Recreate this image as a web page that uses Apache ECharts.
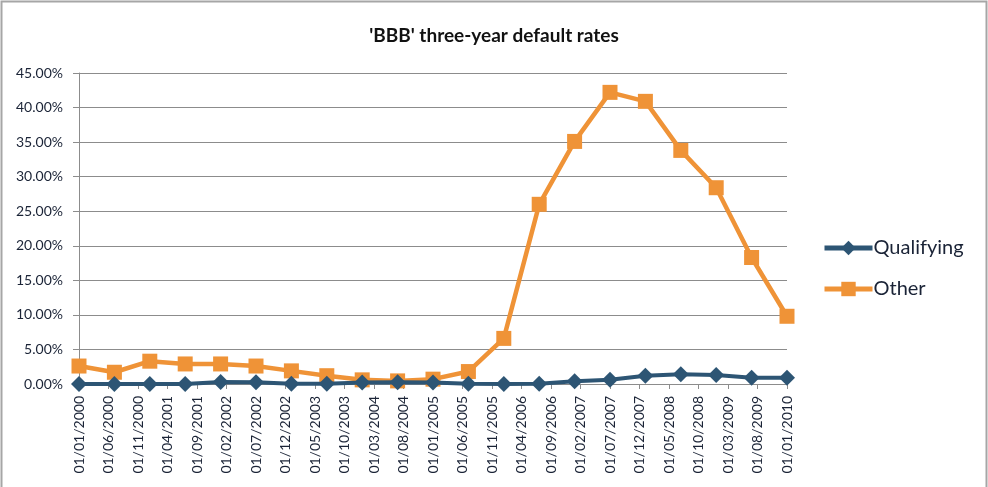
<!DOCTYPE html>
<html>
<head>
<meta charset="utf-8">
<script src="https://cdn.jsdelivr.net/npm/echarts@6/dist/echarts.min.js"></script>
<style>
  html, body { margin: 0; padding: 0; background: #fff; }
  #chart { width: 988px; height: 487px; }
</style>
</head>
<body>
<div id="chart"></div>
<script>
// semiannual observation dates (dd/mm/yyyy)
var pointDates = ['01/01/2000', '01/07/2000', '01/01/2001', '01/07/2001', '01/01/2002', '01/07/2002',
    '01/01/2003', '01/07/2003', '01/01/2004', '01/07/2004', '01/01/2005', '01/07/2005',
    '01/01/2006', '01/07/2006', '01/01/2007', '01/07/2007', '01/01/2008', '01/07/2008',
    '01/01/2009', '01/07/2009', '01/01/2010'];
// default rates in %
var qualifying = [0, 0, 0, 0, 0.3, 0.25, 0.05, 0.05, 0.2, 0.25, 0.2, 0.05,
    0, 0.05, 0.4, 0.6, 1.2, 1.4, 1.3, 0.9, 0.9];
var other = [2.6, 1.7, 3.3, 2.9, 2.9, 2.6, 1.9, 1.2, 0.6, 0.45, 0.7, 1.8,
    6.6, 26.0, 35.1, 42.2, 40.9, 33.8, 28.4, 18.3, 9.8];
// x axis labels, every 5 months
var tickLabels = ['01/01/2000', '01/06/2000', '01/11/2000', '01/04/2001', '01/09/2001', '01/02/2002',
    '01/07/2002', '01/12/2002', '01/05/2003', '01/10/2003', '01/03/2004', '01/08/2004',
    '01/01/2005', '01/06/2005', '01/11/2005', '01/04/2006', '01/09/2006', '01/02/2007',
    '01/07/2007', '01/12/2007', '01/05/2008', '01/10/2008', '01/03/2009', '01/08/2009', '01/01/2010'];
var yTicks = [0, 5, 10, 15, 20, 25, 30, 35, 40, 45];

// months since 01/01/2000
function monthIndex(d) {
    var p = d.split('/');
    return (parseInt(p[2], 10) - 2000) * 12 + parseInt(p[1], 10) - 1;
}

var font = 'Lato';
var textColor = '#1a2336';
var blue = '#2d5574';
var orange = '#ef9337';

var chart = echarts.init(document.getElementById('chart'));
chart.setOption({
    animation: false,
    textStyle: { fontFamily: font },
    title: {
        text: "'BBB' three-year default rates",
        left: 'center',
        top: 21,
        textStyle: { fontSize: 19, fontWeight: 'bold', color: '#111', fontFamily: font }
    },
    graphic: [{
        type: 'rect',
        shape: { x: 1.5, y: 1.5, width: 985, height: 500 },
        style: { fill: 'none', stroke: '#a6a6a6', lineWidth: 2 }
    }],
    legend: {
        orient: 'vertical',
        left: 817,
        top: 233,
        itemWidth: 48,
        itemHeight: 18,
        itemGap: 21,
        lineStyle: { width: 5 },
        textStyle: { fontSize: 20, color: textColor, fontFamily: font, padding: [0, 0, 0, -4] },
        data: ['Qualifying', 'Other']
    },
    grid: {
        left: 79,
        right: 201,
        top: 73,
        bottom: 103
    },
    xAxis: {
        type: 'value',
        min: 0,
        max: (tickLabels.length - 1) * 5,
        interval: 5,
        axisLine: { show: true, onZero: false, lineStyle: { color: '#8c8c8c', width: 1 } },
        axisTick: { show: true, length: 5, lineStyle: { color: '#8c8c8c' } },
        splitLine: { show: false },
        axisLabel: {
            rotate: 90,
            margin: 12,
            fontSize: 14,
            color: textColor,
            fontFamily: font,
            formatter: function (v) { return tickLabels[Math.round(v / 5)] || ''; }
        }
    },
    yAxis: {
        type: 'value',
        min: yTicks[0],
        max: yTicks[yTicks.length - 1],
        interval: 5,
        axisLine: { show: true, lineStyle: { color: '#8c8c8c', width: 1 } },
        axisTick: { show: true, length: 6, lineStyle: { color: '#8c8c8c' } },
        splitLine: { show: true, lineStyle: { color: '#8c8c8c', width: 1 } },
        axisLabel: {
            fontSize: 14,
            margin: 16,
            color: textColor,
            fontFamily: font,
            formatter: function (v) { return v.toFixed(2) + '%'; }
        }
    },
    series: [
        {
            name: 'Qualifying',
            type: 'line',
            data: pointDates.map(function (d, i) { return [monthIndex(d), qualifying[i]]; }),
            symbol: 'diamond',
            symbolSize: 16,
            z: 3,
            itemStyle: { color: blue },
            lineStyle: { color: blue, width: 4 }
        },
        {
            name: 'Other',
            type: 'line',
            data: pointDates.map(function (d, i) { return [monthIndex(d), other[i]]; }),
            symbol: 'rect',
            symbolSize: 15,
            z: 2,
            itemStyle: { color: orange },
            lineStyle: { color: orange, width: 4.5 }
        }
    ]
});
</script>
</body>
</html>
